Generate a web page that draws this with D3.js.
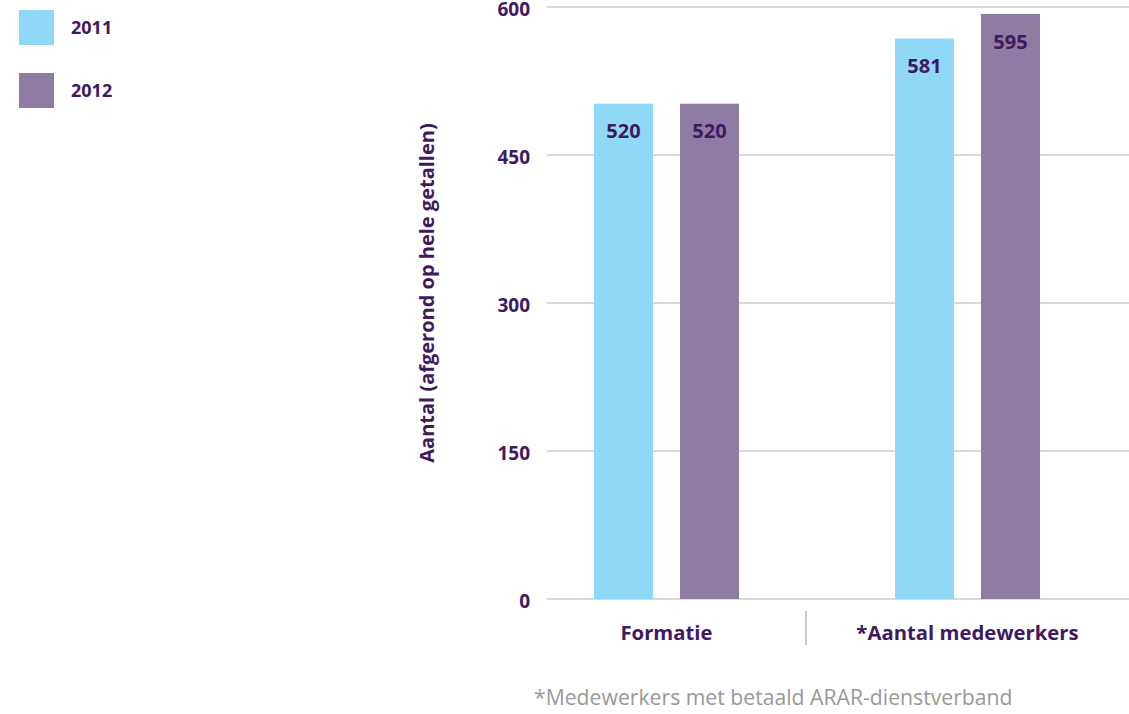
<!DOCTYPE html>
<html><head><meta charset="utf-8">
<script src="https://cdn.jsdelivr.net/npm/d3@7"></script>
<style>body{margin:0;background:#fff}svg{display:block}text{font-family:"Open Sans",sans-serif}</style>
</head><body><svg id="c" width="1129" height="714"></svg>
<script>
const categories = ["Formatie", "*Aantal medewerkers"];
const seriesNames = ["2011", "2012"];
// bar heights as drawn in the picture
const values2011 = [502, 568];
const values2012 = [502, 593];
// printed value labels
const labels2011 = ["520", "581"];
const labels2012 = ["520", "595"];
const yTicks = [0, 150, 300, 450, 600];
const axisTitle = "Aantal (afgerond op hele getallen)";
const footnote = "*Medewerkers met betaald ARAR-dienstverband";

const colors = ["#8fd9f7", "#8e7ca3"];
const textCol = "#40195f";

const svg = d3.select("#c");
const y = d3.scaleLinear().domain([0, 600]).range([599, 7]);
const x0 = d3.scaleBand().domain(categories).range([516, 1118]).padding(0);
const x1 = d3.scaleBand().domain(seriesNames).range([0, 145]).paddingInner(27/86);

// grid
svg.append("g").selectAll("line").data(yTicks).join("line")
  .attr("x1", 547).attr("x2", 1129)
  .attr("y1", d => y(d)).attr("y2", d => y(d))
  .attr("stroke", "#cccccc").attr("stroke-width", 1.5);

// y tick labels
svg.append("g").selectAll("text").data(yTicks).join("text")
  .attr("x", 530).attr("y", d => y(d)).attr("dy", "0.45em")
  .attr("text-anchor", "end").attr("font-weight", 700).attr("font-size", 19)
  .attr("fill", textCol).text(d => d);

// axis title
svg.append("text").attr("transform", "translate(434,293) rotate(-90)")
  .attr("text-anchor", "middle").attr("font-weight", 700).attr("font-size", 20)
  .attr("fill", textCol).text(axisTitle);

const data = categories.map((c, i) => ({
  cat: c,
  bars: [
    {s: seriesNames[0], v: values2011[i], l: labels2011[i], c: colors[0]},
    {s: seriesNames[1], v: values2012[i], l: labels2012[i], c: colors[1]}
  ]
}));

const g = svg.append("g").selectAll("g").data(data).join("g")
  .attr("transform", d => `translate(${x0(d.cat) + x0.bandwidth()/2 - 72.5},0)`);
g.selectAll("rect").data(d => d.bars).join("rect")
  .attr("x", d => x1(d.s)).attr("width", x1.bandwidth())
  .attr("y", d => y(d.v)).attr("height", d => y(0) - y(d.v))
  .attr("fill", d => d.c);
g.selectAll("text").data(d => d.bars).join("text")
  .attr("x", d => x1(d.s) + x1.bandwidth()/2).attr("y", d => y(d.v) + 27)
  .attr("dy", "0.38em").attr("text-anchor", "middle")
  .attr("font-weight", 700).attr("font-size", 20).attr("fill", textCol)
  .text(d => d.l);

// category labels
svg.append("g").selectAll("text").data(categories).join("text")
  .attr("x", d => x0(d) + x0.bandwidth()/2).attr("y", 633).attr("dy", "0.35em")
  .attr("text-anchor", "middle").attr("font-weight", 700).attr("font-size", 20.3)
  .attr("fill", textCol).text(d => d);

// separator
svg.append("line").attr("x1", 806).attr("x2", 806).attr("y1", 611).attr("y2", 645)
  .attr("stroke", "#bbbbbb").attr("stroke-width", 1.5);

// footnote
svg.append("text").attr("x", 534).attr("y", 698).attr("dy", "0.35em")
  .attr("font-size", 21.2).attr("fill", "#999999").text(footnote);

// legend
const leg = svg.append("g").selectAll("g").data(seriesNames).join("g")
  .attr("transform", (d, i) => `translate(19,${10 + i * 63})`);
leg.append("rect").attr("width", 35).attr("height", 35).attr("fill", (d, i) => colors[i]);
leg.append("text").attr("x", 52).attr("y", 18).attr("dy", "0.35em")
  .attr("font-weight", 700).attr("font-size", 18).attr("fill", textCol).text(d => d);
</script></body></html>
